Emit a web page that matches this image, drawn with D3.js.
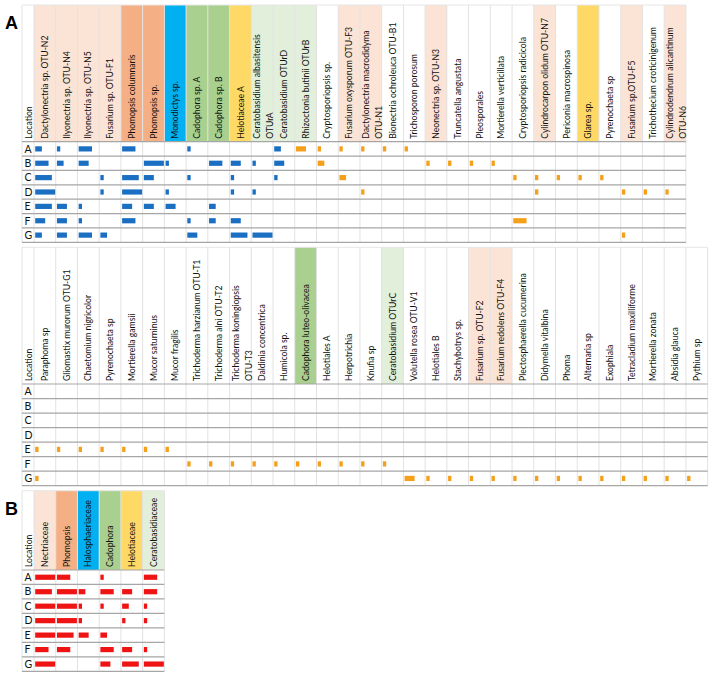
<!DOCTYPE html>
<html><head><meta charset="utf-8">
<script src="https://cdn.jsdelivr.net/npm/d3@7"></script>
<style>
body{margin:0;background:#fff;}
svg{display:block;font-family:Lato,"Open Sans",sans-serif;}
</style></head>
<body><svg id="chart" width="717" height="677"></svg>
<script>
// ---------- DATA ----------
const locations = ["A","B","C","D","E","F","G"];

const topTaxa = ["Dactylonectria sp. OTU-N2","Ilyonectria sp. OTU-N4","Ilyonectria sp. OTU-N5","Fusarium sp. OTU-F1",
 "Phomopsis columnaris","Phomopsis sp.","Monodictys sp.","Cadophora sp. A","Cadophora sp. B","Helotiaceae A",
 "Ceratobasidium albasitensis\nOTUrA","Ceratobasidium OTUrD","Rhizoctonia butinii OTUrB","Cryptosporiopsis sp.",
 "Fusarium oxysporum OTU-F3","Dactylonectria macrodidyma\nOTU-N1","Bionectria ochroleuca OTU-B1","Trichosporon porosum",
 "Neonectria sp. OTU-N3","Truncatella angustata","Pleosporales","Mortierella verticillata","Cryptosporiopsis radicicola",
 "Cylindrocarpon olidum OTU-N7","Periconia macrospinosa","Glarea sp.","Pyrenochaeta sp","Fusarium sp.OTU-F5",
 "Trichothecium croticinigenum","Cylindrodendrum alicantinum\nOTU-N6"];
const topGroups = ["N","N","N","N","P","P","H","C","C","L","R","R","R","","N","N","","","N","","","","","N","","L","","N","","N"];
const topCoreCount = 12; // first 12 taxa drawn in blue
const topValues = [
 [2,1,4,0,4,0,0,1,0,0,0,2,3,1,1,1,1,1,0,0,0,0,0,0,0,0,0,0,0,0],
 [4,2,3,0,0,6,1,0,4,3,1,3,0,2,0,0,0,0,1,1,1,1,0,0,0,0,0,0,0,0],
 [5,0,0,1,5,3,0,1,0,1,0,1,0,0,2,0,0,0,0,0,0,0,1,1,1,1,1,0,0,0],
 [6,0,0,1,6,0,1,0,0,1,1,0,0,0,0,1,0,0,0,0,0,0,0,1,0,0,0,1,1,1],
 [5,3,1,0,3,3,3,0,2,0,0,0,0,0,0,0,0,0,0,0,0,0,0,0,0,0,0,0,0,0],
 [3,3,1,0,4,0,0,1,2,3,0,0,0,0,0,0,0,0,0,0,0,0,4,0,0,0,0,0,0,0],
 [2,3,4,2,0,0,0,3,0,5,6,0,0,0,0,0,0,0,0,0,0,0,0,0,0,0,0,1,0,0]
];

const lowTaxa = ["Paraphoma sp","Gliomastix murorum OTU-G1","Chaetomium nigricolor","Pyrenochaeta sp","Mortierella gamsii",
 "Mucor saturninus","Mucor fragilis","Trichoderma harzianum OTU-T1","Trichoderma alni OTU-T2","Trichoderma koningiopsis\nOTU-T3",
 "Daldinia concentrica","Humicola sp.","Cadophora luteo-olivacea","Helotiales A","Herpotrichia","Knufia sp",
 "Ceratobasidium OTUrC","Volutella rosea OTU-V1","Helotiales B","Stachybotrys sp.","Fusarium sp. OTU-F2",
 "Fusarium redolens OTU-F4","Plectosphaerella cucumerina","Didymella vitalbina","Phoma","Alternaria sp","Exophiala",
 "Tetracladium maxilliforme","Mortierella zonata","Absidia glauca","Pythium sp"];
const lowGroups = ["","","","","","","","","","","","","C","","","","R","","","","N","N","","","","","","","","",""];
const lowValues = [
 [0,0,0,0,0,0,0,0,0,0,0,0,0,0,0,0,0,0,0,0,0,0,0,0,0,0,0,0,0,0,0],
 [0,0,0,0,0,0,0,0,0,0,0,0,0,0,0,0,0,0,0,0,0,0,0,0,0,0,0,0,0,0,0],
 [0,0,0,0,0,0,0,0,0,0,0,0,0,0,0,0,0,0,0,0,0,0,0,0,0,0,0,0,0,0,0],
 [0,0,0,0,0,0,0,0,0,0,0,0,0,0,0,0,0,0,0,0,0,0,0,0,0,0,0,0,0,0,0],
 [1,1,1,1,1,1,1,0,0,0,0,0,0,0,0,0,0,0,0,0,0,0,0,0,0,0,0,0,0,0,0],
 [0,0,0,0,0,0,0,1,1,1,1,1,1,1,1,1,1,0,0,0,0,0,0,0,0,0,0,0,0,0,0],
 [1,0,0,0,0,0,0,0,0,0,0,0,0,0,0,0,0,3,1,1,1,1,1,1,1,1,1,1,1,1,1]
];

const familyTaxa = ["Nectriaceae","Phomopsis","Halosphaeriaceae","Cadophora","Helotiaceae","Ceratobasidiaceae"];
const familyGroups = ["N","P","H","C","L","R"];
const familyValues = [
 [6,4,0,1,0,4],
 [5,6,2,4,3,4],
 [6,6,1,1,2,1],
 [6,6,1,0,1,1],
 [6,5,3,2,0,0],
 [4,4,0,4,3,1],
 [6,0,0,3,5,6]
];

const groupColors = {N:"#fbe4d6",P:"#f4b084",H:"#00b0f0",C:"#a9d08e",L:"#ffd966",R:"#e2efda"};

// ---------- DRAW ----------
const svg = d3.select("#chart");
const colW = 21.73, x0 = 34, locX = 22;
const barScale = d3.scaleLinear().domain([0,6]).range([0,20]);
const textSquash = 0.88;

function rotLabel(g, bx, by, txt, fs){
  g.append("text").attr("transform",`translate(${bx},${by}) rotate(-90) scale(${textSquash},1)`)
    .attr("font-size",fs).attr("fill","#111").text(txt);
}

function drawSection(cfg){
  const g = svg.append("g");
  const x = d3.scaleBand().domain(d3.range(cfg.taxa.length)).range([x0, x0 + cfg.taxa.length*colW]).padding(0);
  const y = d3.scaleBand().domain(locations).range([cfg.headBottom, cfg.bottom]).padding(0);
  const xEnd = x0 + cfg.taxa.length*colW;

  // header colours
  g.selectAll("rect.hd").data(cfg.taxa).join("rect")
    .attr("x",(d,i)=>x(i)).attr("y",cfg.top).attr("width",x.bandwidth()).attr("height",cfg.headBottom-cfg.top)
    .attr("fill",(d,i)=>cfg.groups[i]?groupColors[cfg.groups[i]]:"none");

  // vertical grid
  const vx = [locX].concat(d3.range(cfg.taxa.length+1).map(i=>x0+i*colW));
  g.selectAll("line.v").data(vx).join("line")
    .attr("x1",d=>d).attr("x2",d=>d).attr("y1",cfg.top).attr("y2",cfg.bottom)
    .attr("stroke","#e2e2e2").attr("stroke-width",1);
  g.append("line").attr("x1",locX).attr("x2",xEnd).attr("y1",cfg.top).attr("y2",cfg.top)
    .attr("stroke","#e6e6e6");
  const hy = [cfg.headBottom].concat(locations.map(l=>y(l)+y.bandwidth()));
  g.selectAll("line.h").data(hy).join("line")
    .attr("x1",locX).attr("x2",xEnd).attr("y1",d=>d).attr("y2",d=>d)
    .attr("stroke","#a6a6a6").attr("stroke-width",1.2);

  // header labels
  const labY = cfg.headBottom - 3;
  cfg.taxa.forEach((d,i)=>{
    const lines = d.split("\n");
    lines.forEach((ln,k)=>{
      const bx = lines.length===1 ? x(i)+14 : x(i)+9+k*13;
      rotLabel(g, bx, labY, ln, cfg.fs);
    });
  });
  rotLabel(g, 32, labY, "Location", cfg.fs);

  // row labels
  g.selectAll("text.row").data(locations).join("text")
    .attr("x",24.5).attr("y",d=>y(d)+y.bandwidth()/2).attr("dy","0.36em")
    .attr("font-size",10.5).attr("fill","#111").text(d=>d);

  // bars
  const cells = [];
  cfg.values.forEach((row,ri)=>row.forEach((v,ci)=>{ if(v>0) cells.push({loc:locations[ri],ci,v}); }));
  g.selectAll("rect.bar").data(cells).join("rect")
    .attr("x",d=>x(d.ci)+1.2).attr("y",d=>y(d.loc)+y.bandwidth()/2-2.6)
    .attr("width",d=>barScale(d.v)).attr("height",5.2)
    .attr("fill",d=>cfg.color(d.ci));
}

drawSection({taxa:topTaxa,groups:topGroups,values:topValues,top:5,headBottom:141.7,bottom:242.3,fs:9.8,
  color:ci=>ci<topCoreCount?"#1b6fc2":"#f5a01b"});
drawSection({taxa:lowTaxa,groups:lowGroups,values:lowValues,top:247.3,headBottom:384,bottom:485.7,fs:9.8,
  color:ci=>"#f5a01b"});
drawSection({taxa:familyTaxa,groups:familyGroups,values:familyValues,top:490.7,headBottom:570,bottom:671.3,fs:9.8,
  color:ci=>"#ee1414"});

// panel letters
svg.append("text").attr("x",5).attr("y",29).attr("font-family","Liberation Sans, Arial, sans-serif")
  .attr("font-weight","bold").attr("font-size",18).text("A");
svg.append("text").attr("x",5).attr("y",515).attr("font-family","Liberation Sans, Arial, sans-serif")
  .attr("font-weight","bold").attr("font-size",18).text("B");
</script></body></html>
